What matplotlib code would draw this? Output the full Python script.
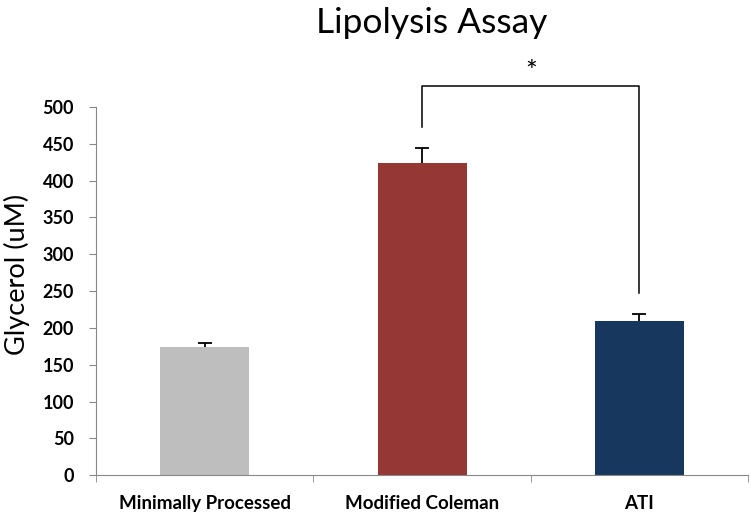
import numpy as np
import matplotlib.pyplot as plt

# Data
categories = ['Minimally Processed', 'Modified Coleman', 'ATI']
glycerol = [174, 424, 210]
errors = [5, 20, 9]
colors = ['#bfbebe', '#953735', '#17375e']

plt.rcParams['font.family'] = ['Lato', 'DejaVu Sans']

fig = plt.figure(figsize=(7.51, 5.17), dpi=100)
ax = fig.add_axes([0.128, 0.081, 0.868, 0.712])

x = np.arange(len(categories))
ax.bar(x, glycerol, width=0.41, color=colors, zorder=2)
# error bars drawn under the bars so only the upper half shows
ax.errorbar(x, glycerol, yerr=errors, fmt='none',
            ecolor='black', elinewidth=1.3, capsize=5, capthick=1.3, zorder=1)

ax.set_xlim(-0.5, 2.5)
ax.set_ylim(0, 500)
ax.set_yticks(np.arange(0, 501, 50))
ax.set_xticks(x)
ax.set_xticklabels(categories, fontsize=13.5, fontweight='bold')
ax.set_xticks([-0.5, 0.5, 1.5, 2.5], minor=True)
ax.tick_params(axis='x', which='major', length=0, pad=14)
ax.tick_params(axis='x', which='minor', length=5, color='#888888', direction='out')
ax.tick_params(axis='y', length=5, color='#888888', labelsize=13, pad=11)
for lbl in ax.get_yticklabels():
    lbl.set_fontweight('bold')

for s in ['top', 'right']:
    ax.spines[s].set_visible(False)
for s in ['left', 'bottom']:
    ax.spines[s].set_color('#888888')

ax.set_ylabel('Glycerol (uM)', fontsize=19.5)
ax.yaxis.set_label_coords(-0.101, 0.545)
fig.text(0.575, 0.955, 'Lipolysis Assay', fontsize=25.5, ha='center', va='center')

# significance bracket
ax.plot([1, 1, 2, 2], [473, 528, 528, 247], color='black', lw=1.1, clip_on=False)
ax.text(1.5, 546, '*', ha='center', va='center', fontsize=20)

fig.savefig('out.png', dpi=100)
